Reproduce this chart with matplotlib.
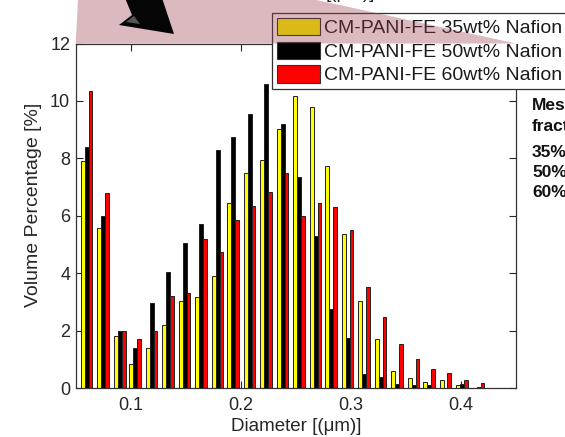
import matplotlib
matplotlib.use("Agg")
import matplotlib.pyplot as plt
import numpy as np
from matplotlib.patches import Patch, Polygon

plt.rcParams['font.family'] = ['Liberation Sans', 'DejaVu Sans']

# Particle size distribution (bin centres, um) and volume percentages
diameter = [0.060, 0.075, 0.090, 0.104, 0.119, 0.134, 0.149, 0.164, 0.179,
            0.193, 0.208, 0.223, 0.238, 0.253, 0.268, 0.282, 0.297, 0.312,
            0.327, 0.342, 0.357, 0.371, 0.386, 0.401, 0.416]
nafion_35 = [7.92, 5.59, 1.83, 0.85, 1.41, 2.21, 3.04, 3.19, 3.92, 6.45,
             7.48, 7.95, 9.01, 10.17, 9.80, 7.75, 5.36, 3.04, 1.72, 0.61,
             0.35, 0.23, 0.28, 0.10, 0.02]
nafion_50 = [8.39, 6.00, 1.98, 1.41, 2.97, 4.04, 5.06, 5.71, 8.31, 8.76,
             9.54, 10.59, 9.20, 7.34, 5.30, 2.77, 1.74, 0.49, 0.40, 0.14,
             0.10, 0.10, 0.02, 0.15, 0.03]
nafion_60 = [10.36, 6.80, 1.98, 1.72, 1.98, 3.20, 3.31, 5.20, 4.76, 5.85,
             6.36, 6.84, 7.48, 6.01, 6.44, 6.32, 5.51, 3.54, 2.49, 1.54,
             1.03, 0.66, 0.54, 0.28, 0.18]
series_labels = ['CM-PANI-FE 35wt% Nafion', 'CM-PANI-FE 50wt% Nafion',
                 'CM-PANI-FE 60wt% Nafion']
series_colors = ['#FFFF00', '#000000', '#FF0000']
side_lines = ['Mesopore', 'fraction', '35%', '50%', '60%']

W, H = 565, 437
fig = plt.figure(figsize=(W / 100, H / 100), dpi=100)


def fx(px):
    return px / W


def fy(py):
    return 1 - py / H


ax = fig.add_axes([fx(75.7), fy(388.3), fx(516 - 75.7), (388.3 - 43.5) / H])

x = np.array(diameter)
bw = 0.0035
for k, (vals, col) in enumerate(zip([nafion_35, nafion_50, nafion_60], series_colors)):
    ax.bar(x + (k - 1) * bw, vals, width=bw, color=col, edgecolor='#222222',
           linewidth=0.7, zorder=2)

ax.set_xlim(0.05, 0.45)
ax.set_ylim(0, 12)
ax.set_xticks([0.1, 0.2, 0.3, 0.4])
ax.set_xticklabels(['0.1', '0.2', '0.3', '0.4'])
ax.set_yticks([0, 2, 4, 6, 8, 10, 12])
ax.tick_params(direction='in', length=5, width=0.8, top=True, right=True,
               labelsize=13, colors='#262626')
ax.tick_params(axis='x', pad=6)
ax.tick_params(axis='y', pad=4)
for s in ax.spines.values():
    s.set_color('#333333')
    s.set_linewidth(0.9)

ax.set_xlabel('Diameter [(\u03bcm)]', fontsize=13.5, color='#262626')
ax.xaxis.set_label_coords(0.5, -0.085)
ax.set_ylabel('Volume Percentage [%]', fontsize=14, color='#262626')
ax.yaxis.set_label_coords(-0.076, 0.532)

handles = [Patch(facecolor=c, edgecolor='#333333', linewidth=0.8) for c in series_colors]
leg = ax.legend(handles, series_labels, loc='upper left',
                bbox_to_anchor=(fx(272), fy(13)), bbox_transform=fig.transFigure,
                fontsize=14, frameon=True, fancybox=False, framealpha=1,
                edgecolor='#333333', borderpad=0.25, handlelength=2.2,
                handleheight=1.0, handletextpad=0.25, labelspacing=0.22,
                borderaxespad=0)
leg.get_frame().set_linewidth(0.9)
for t in leg.get_texts():
    t.set_color('#1a1a1a')

# Translucent funnel linking the upper panel to this plot
funnel = Polygon([(fx(79), fy(-20)), (fx(225), fy(-20)), (fx(516), fy(43.5)),
                  (fx(75.7), fy(43.5))], closed=True, transform=fig.transFigure,
                 facecolor=(149 / 255, 58 / 255, 69 / 255), alpha=0.35,
                 edgecolor='none', zorder=5)
fig.add_artist(funnel)

# Pointer arrow
arrow = Polygon([(fx(125), fy(-2)), (fx(132), fy(15)), (fx(119), fy(25)),
                 (fx(174), fy(34)), (fx(162), fy(-2))], closed=True,
                transform=fig.transFigure, facecolor='#050505',
                edgecolor='none', zorder=6)
fig.add_artist(arrow)
shine = Polygon([(fx(126), fy(22)), (fx(134), fy(16)), (fx(140), fy(24))],
                closed=True, transform=fig.transFigure, facecolor='#6a6a6a',
                edgecolor='none', zorder=7, alpha=0.8)
fig.add_artist(shine)

# Axis label of the panel above (mostly outside the figure)
fig.text(fx(350), fy(2), '[(\u03bcm)]', fontsize=13.5, ha='center', va='bottom',
         color='#262626')

# Side annotation
for txt, base in zip(side_lines, [110, 131, 157, 177, 197]):
    fig.text(fx(532), fy(base), txt, fontsize=12.5, fontweight='bold',
             ha='left', va='baseline', color='#111111')

fig.savefig('out.png', dpi=100)
